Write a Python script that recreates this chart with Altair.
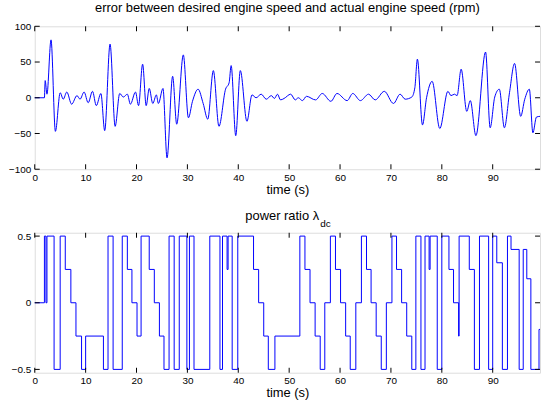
import altair as alt
import pandas as pd

# ---- data ----
err_t = [0, 1.9, 2.05, 2.4, 3.2, 4.06, 5.0, 5.6, 6.3, 7.25, 8.3, 8.9, 9.7, 10.5, 11.35, 12.1, 13.0,
         13.75, 14.8, 15.8, 16.7, 17.4, 18.2, 18.8, 19.8, 20.4, 21.2, 21.9, 22.5, 23.2, 23.9, 24.3,
         25.2, 26.0, 27.1, 27.9, 29.2, 30.2, 31.0, 32.1, 33.1, 34.0, 35.1, 36.2, 37.5, 38.2, 38.6,
         39.5, 40.4, 41.7, 42.7, 43.5, 44.5, 45.5, 46.5, 47.1, 47.7, 48.3, 49.0, 50.3, 51.2, 51.8,
         52.6, 53.4, 55.2, 56.5, 58.2, 59.4, 61.4, 62.5, 64.0, 65.6, 66.9, 68.7, 70.5, 71.8, 72.8,
         74.1, 74.7, 75.2, 76.2, 77.0, 78.1, 79.6, 81.2, 81.8, 82.5, 83.0, 83.8, 84.9, 85.6, 86.7,
         88.6, 89.5, 90.4, 91.3, 92.3, 93.3, 94.3, 95.5, 96.3, 97.2, 97.9, 98.6, 99.3]
err_v = [0, 0, 24, 5, 81, -47, 7, -2, 8, -9, 3, -2, 8, -7, 9, -11, 6,
         -46, 75, -40, 6, 1, 5, -9, 8, -11, 47, -11, 13, -8, 4, -8,
         13, -84, 30, -37, 60, -28, -5, 12, -8, -30, 38, -40, 12, 21, 45,
         -53, 38, -33, 4, 0, 5, -2, 3, -1, 5, -3, -1, 5, -3, 0,
         -4, 2, -3, 6, -5, 6, -4, 6, -4, 5, -3, 9, -8, 5, -2,
         1, 14, 54, -38, 0, 23, -43, 9, 3, 5, 3, 40, -19, -4, -53,
         64, -42, 1, 12, -42, 7, 48, -26, -2, 12, -49, -27, -26]

ratio_t = [0, 1.9, 2.2, 2.4, 3.8, 5.0, 6.0, 7.1, 8.1, 9.2, 10.0, 13.5, 14.4, 15.4, 17.2, 18.2,
           19.1, 20.1, 20.9, 22.5, 23.5, 24.5, 25.4, 26.4, 27.4, 28.4, 29.9, 30.4, 31.3, 34.4,
           36.4, 36.9, 37.8, 38.0, 38.8, 39.9, 43.0, 44.0, 45.0, 45.9, 47.2, 52.1, 53.1, 54.1,
           55.1, 56.1, 57.0, 58.1, 59.1, 60.1, 61.1, 62.0, 63.1, 64.2, 65.2, 66.1, 67.1, 68.1,
           69.1, 70.2, 71.1, 72.1, 73.1, 74.1, 74.9, 75.9, 76.7, 77.5, 77.7, 79.1, 80.0, 81.4,
           82.3, 83.3, 83.4, 85.4, 86.4, 87.4, 89.2, 90.0, 90.8, 91.9, 92.9, 93.6, 95.2, 96.0,
           96.7, 97.5, 99.1, 99.3]
ratio_v = [0, 0.5, 0, 0.5, -0.5, 0.5, 0.25, 0, -0.25, -0.5, -0.25, -0.5, 0.5, -0.5, 0.5, 0.25,
           0, -0.25, 0.5, 0.25, 0, -0.25, -0.5, 0.5, -0.5, 0.5, -0.5, 0.5, -0.5, 0.5,
           -0.5, 0.5, 0.25, 0.5, -0.5, 0.5, 0.25, 0, -0.25, -0.5, -0.25, 0.5, 0.25, 0,
           -0.25, -0.5, 0, 0.5, 0.25, 0, -0.25, -0.5, 0, 0.5, 0.25, 0, -0.25, -0.5,
           0, 0.5, 0.25, 0, -0.25, -0.5, 0.5, -0.5, 0.5, 0.25, 0.5, -0.5, 0.5, 0.25,
           0, -0.25, 0.5, 0.25, -0.5, 0.5, -0.5, 0.5, 0.3, -0.5, 0.5, 0.4, -0.5, 0.4,
           0.18, -0.5, -0.2, -0.2]

x_ticks = [0, 10, 20, 30, 40, 50, 60, 70, 80, 90]
err_ticks = [-100, -50, 0, 50, 100]
ratio_ticks = [-0.5, 0, 0.5]

title_top = "error between desired engine speed and actual engine speed (rpm)"
title_bottom = "power ratio \u03bb"
title_bottom_sub = "dc"
x_title = "time (s)"

# ---- layout constants ----
W = 509
H1 = 144
H2 = 141
XMAX = 99.3
BLUE = "#0000ff"
FONT = "Liberation Sans"
TL = 5

xs = alt.Scale(domain=[0, XMAX], nice=False, zero=False)
xaxis = alt.Axis(values=x_ticks, ticks=False, domain=False, grid=False, labelPadding=3,
                 title=x_title, titlePadding=1, labelFlush=False, titleFontWeight="normal",
                 titleFontSize=13, titleFont=FONT, titleColor="black")


def panel(t, v, yticks, ydom, H, interp, fmt):
    main = pd.DataFrame({"t": t, "v": v})
    xt = pd.DataFrame({"t": x_ticks})
    yt = pd.DataFrame({"v": yticks})
    ys = alt.Scale(domain=ydom, nice=False, zero=False)
    yaxis = alt.Axis(values=yticks, ticks=False, domain=False, grid=False, labelPadding=4,
                     title=None, labelFlush=False, format=fmt)
    line = alt.Chart(main).mark_line(color=BLUE, strokeWidth=1, interpolate=interp).encode(
        x=alt.X("t:Q", scale=xs, axis=xaxis),
        y=alt.Y("v:Q", scale=ys, axis=yaxis),
    )
    xb = alt.Chart(xt).mark_rule(color="black", strokeWidth=1).encode(
        x=alt.X("t:Q", scale=xs, axis=xaxis), y=alt.value(H), y2=alt.value(H - TL))
    xtop = alt.Chart(xt).mark_rule(color="black", strokeWidth=1).encode(
        x=alt.X("t:Q", scale=xs, axis=xaxis), y=alt.value(0), y2=alt.value(TL))
    yl = alt.Chart(yt).mark_rule(color="black", strokeWidth=1).encode(
        y=alt.Y("v:Q", scale=ys, axis=yaxis), x=alt.value(0), x2=alt.value(TL))
    yr = alt.Chart(yt).mark_rule(color="black", strokeWidth=1).encode(
        y=alt.Y("v:Q", scale=ys, axis=yaxis), x=alt.value(W), x2=alt.value(W - TL))
    return [line, xb, xtop, yl, yr]


top = alt.layer(*panel(err_t, err_v, err_ticks, [-100, 100], H1, "monotone", "d")
                ).properties(
    width=W, height=H1,
    title=alt.TitleParams(title_top, fontSize=13, font=FONT, fontWeight="normal",
                          anchor="middle", frame="group", offset=6, color="black"))

main_title = alt.Chart(pd.DataFrame({"s": [title_bottom]})).mark_text(
    align="right", baseline="middle", fontSize=13, font=FONT, color="black").encode(
    text="s:N", x=alt.value(286.5), y=alt.value(-17))
sub = alt.Chart(pd.DataFrame({"s": [title_bottom_sub]})).mark_text(
    align="left", baseline="middle", fontSize=10, font=FONT, color="black").encode(
    text="s:N", x=alt.value(287.5), y=alt.value(-9))
bottom = alt.layer(*panel(ratio_t, ratio_v, ratio_ticks, [-0.525, 0.525], H2,
                          "step-after", ".1~f"), main_title, sub
                   ).properties(width=W, height=H2)

chart = alt.vconcat(top, bottom, spacing=12).properties(
    padding={"left": 7, "top": 0, "right": 0, "bottom": 0}
).configure_view(stroke="black", strokeWidth=1).configure_axis(
    labelFont=FONT, labelFontSize=10.5, labelColor="black", titleFont=FONT, titleFontSize=13,
    titleFontWeight="normal", titleColor="black"
).configure(background="white")

chart.save("out.html", embed_options={"renderer": "svg", "actions": False})
